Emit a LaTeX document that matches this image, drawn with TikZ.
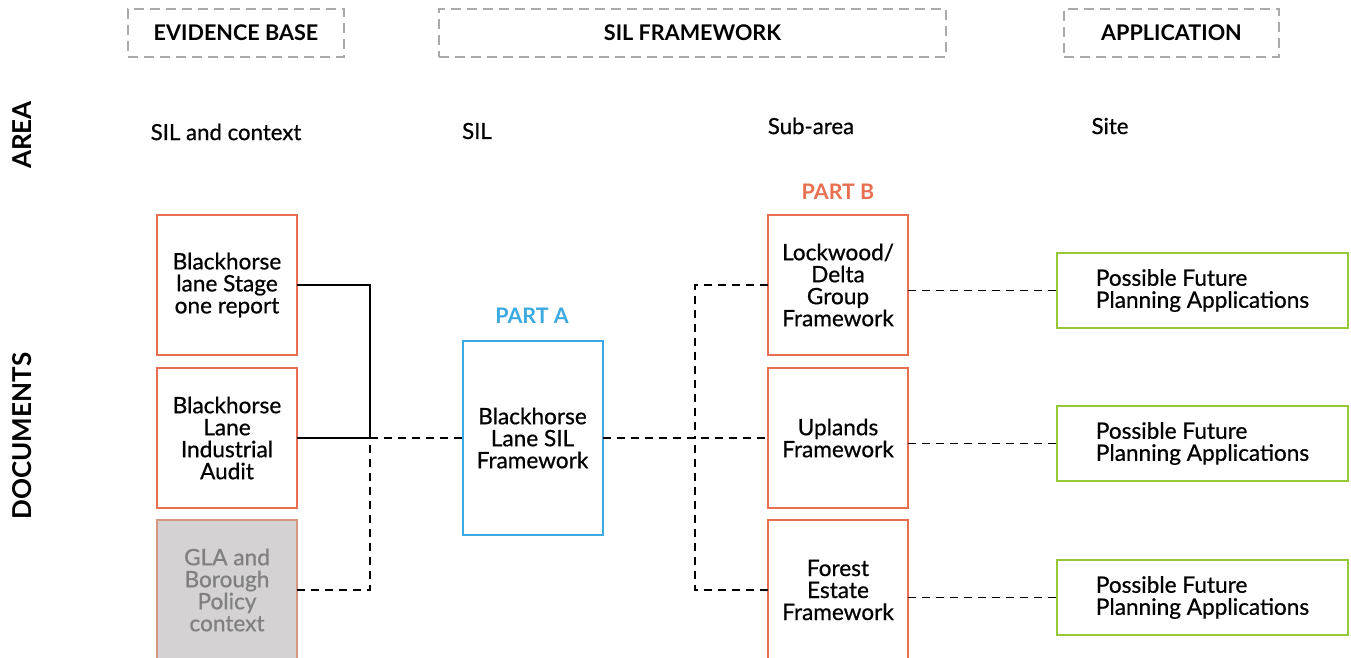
\documentclass[tikz,border=0pt]{standalone}
\usepackage{fontspec}
\setmainfont{Lato}
\newfontfamily\medfont{Lato}[FakeBold=0.7]
\definecolor{partorange}{RGB}{232,112,80}
\definecolor{partblue}{RGB}{58,170,225}
\definecolor{appgreen}{RGB}{150,200,55}
\definecolor{hdrgray}{RGB}{170,170,170}
\definecolor{glafill}{RGB}{212,210,210}
\definecolor{glatext}{RGB}{128,128,128}
\definecolor{glaline}{RGB}{215,150,130}

\begin{document}
\begin{tikzpicture}[x=0.5pt,y=-0.5pt,
	hdrbox/.style={draw=hdrgray,line width=1pt,dash pattern=on 5pt off 3pt,minimum height=24pt,inner sep=0pt,font=\fontsize{10.8}{12}\selectfont\bfseries},
	sidelabel/.style={rotate=90,font=\fontsize{13}{15}\selectfont\bfseries},
	arealabel/.style={font=\fontsize{11.1}{12}\selectfont\medfont},
	docbox/.style={draw=partorange,line width=1pt,minimum width=70pt,minimum height=70pt,inner sep=0pt,outer sep=0pt,align=center,font=\fontsize{11.3}{11}\selectfont\medfont},
	appbox/.style={draw=appgreen,line width=1pt,minimum width=145.5pt,minimum height=37.5pt,inner sep=0pt,outer sep=0pt,align=left,font=\fontsize{11.3}{11}\selectfont\medfont},
	partlabel/.style={font=\fontsize{10.7}{12}\selectfont\bfseries},
	link/.style={line width=.8pt},
	dlink/.style={line width=.8pt,dash pattern=on 4pt off 3pt}]
	\useasboundingbox (0,0) rectangle (1351,658);
	% column headers
	\node[hdrbox,minimum width=108pt] (evidence) at (236,33) {EVIDENCE BASE};
	\node[hdrbox,minimum width=253.5pt] (silfw) at (692.5,33) {SIL FRAMEWORK};
	\node[hdrbox,minimum width=107.5pt] (application) at (1171.5,33) {APPLICATION};
	% rows
	\node[sidelabel] (area) at (22,135) {AREA};
	\node[sidelabel] (documents) at (22,436) {DOCUMENTS};
	\node[arealabel] (silctx) at (226,132) {SIL and context};
	\node[arealabel] (sil) at (477,131) {SIL};
	\node[arealabel] (subarea) at (811,126) {Sub-area};
	\node[arealabel] (site) at (1110,126) {Site};
	% evidence base
	\node[docbox] (stage) at (227,285) {Blackhorse\\lane Stage\\one report};
	\node[docbox] (audit) at (227,438) {Blackhorse\\Lane\\Industrial\\Audit};
	\node[docbox,draw=glaline,fill=glafill,text=glatext] (gla) at (227,590) {GLA and\\Borough\\Policy\\context};
	% part A
	\node[partlabel,text=partblue] (parta) at (532,316) {PART A};
	\node[docbox,draw=partblue,minimum height=97pt] (silframework) at (532.5,438) {Blackhorse\\Lane SIL\\Framework};
	% part B
	\node[partlabel,text=partorange] (partb) at (838,192) {PART B};
	\node[docbox] (lockwood) at (838,285) {Lockwood/\\Delta\\Group\\Framework};
	\node[docbox] (uplands) at (838,438) {Uplands\\Framework};
	\node[docbox] (forest) at (838,590) {Forest\\Estate\\Framework};
	% applications
	\node[appbox] (app1) at (1202.5,290.5) {Possible Future\\Planning Applications};
	\node[appbox] (app2) at (1202.5,443.5) {Possible Future\\Planning Applications};
	\node[appbox] (app3) at (1202.5,597.5) {Possible Future\\Planning Applications};
	% connectors
	\coordinate (jleft) at (370,438);
	\coordinate (jright) at (695,438);
	\draw[link] (stage.east) -| (jleft);
	\draw[link] (audit.east) -- (jleft);
	\draw[dlink] (gla.east) -| (jleft);
	\draw[dlink] (jleft) -- (silframework.west);
	\draw[dlink] (silframework.east) -- (uplands.west);
	\draw[dlink] (lockwood.west) -| (jright);
	\draw[dlink] (forest.west) -| (jright);
	\draw[dlink] (app1.west -| lockwood.east) -- (app1.west);
	\draw[dlink] (app2.west -| uplands.east) -- (app2.west);
	\draw[dlink] (app3.west -| forest.east) -- (app3.west);
\end{tikzpicture}
\end{document}
